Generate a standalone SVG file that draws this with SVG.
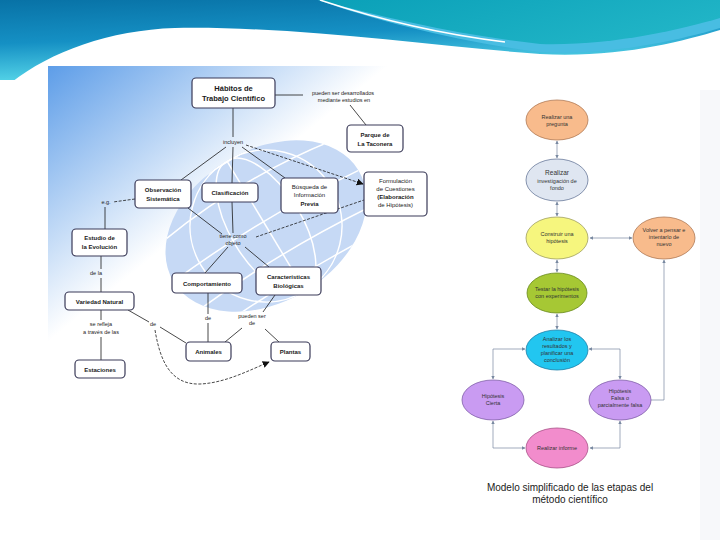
<svg xmlns="http://www.w3.org/2000/svg" width="720" height="540" viewBox="0 0 720 540">
<defs>
<linearGradient id="gBanner" x1="0" y1="0" x2="0.3" y2="1">
<stop offset="0" stop-color="#0872a6"/><stop offset="0.5" stop-color="#1590c4"/><stop offset="1" stop-color="#5cdcec"/>
</linearGradient>
<linearGradient id="gTeal" x1="0" y1="0" x2="1" y2="0.4">
<stop offset="0" stop-color="#0aa0b8"/><stop offset="1" stop-color="#20b4c6"/>
</linearGradient>
<linearGradient id="gMap" x1="0" y1="0" x2="0.75" y2="0.75">
<stop offset="0" stop-color="#5d9de8"/><stop offset="0.55" stop-color="#ffffff"/><stop offset="1" stop-color="#ffffff"/>
</linearGradient>
<clipPath id="globeClip"><ellipse cx="0" cy="0" rx="108" ry="76"/></clipPath>
<marker id="ah" viewBox="0 0 10 10" refX="9" refY="5" markerWidth="7" markerHeight="7" orient="auto-start-reverse" markerUnits="userSpaceOnUse">
<path d="M0,0 L10,5 L0,10 Z" fill="#111"/>
</marker>
<marker id="fa" viewBox="0 0 10 10" refX="9" refY="5" markerWidth="3.5" markerHeight="3.5" orient="auto-start-reverse" markerUnits="userSpaceOnUse">
<path d="M0,0 L10,5 L0,10 Z" fill="#7888a0"/>
</marker>
<style>
.box{fill:#fff;stroke:#3a3a58;stroke-width:1.2}
.bt{font-family:"Liberation Sans",Arial,sans-serif;font-weight:bold;font-size:6px;fill:#1a1a1a;text-anchor:middle}
.rt{font-family:"Liberation Sans",Arial,sans-serif;font-size:6px;fill:#1a1a1a;text-anchor:middle}
.lb{font-family:"Liberation Sans",Arial,sans-serif;font-size:5.5px;fill:#1a1a1a;text-anchor:middle}
.ln{stroke:#1a1a1a;stroke-width:0.8;fill:none}
.dl{stroke:#1a1a1a;stroke-width:0.8;fill:none;stroke-dasharray:3 1.5}
.fc{stroke:#7888a0;stroke-width:0.7;fill:none}
.el{stroke-width:0.8}
.ft{font-family:"Liberation Sans",Arial,sans-serif;font-size:5.5px;fill:#333;text-anchor:middle}
.cap{font-family:"Liberation Sans",Arial,sans-serif;font-size:10px;fill:#222;text-anchor:middle}
</style>
</defs>

<rect x="0" y="0" width="720" height="540" fill="#ffffff"/>

<g id="banner">
<rect x="0" y="0" width="720" height="80" fill="url(#gBanner)"/>
<path d="M318,0 C380,22 460,42 540,52 C610,56 680,40 720,28 L720,0 Z" fill="#48bde2"/>
<path d="M318,0 C385,18 465,36 540,44 C610,46 680,30 720,18 L720,0 Z" fill="url(#gTeal)"/>
<path d="M320,0 C380,20 440,34 505,42" stroke="#ffffff" stroke-width="1.5" fill="none"/>
<path d="M0,82 L12,82 C50,52 110,30 175,28 C300,26 430,46 540,54 C620,58 680,42 720,30 L720,82 Z" fill="#ffffff"/>
</g>

<rect x="700" y="90" width="20" height="450" fill="#f7f8fa"/>

<g id="concept-map-frame">
<rect x="48" y="66" width="412" height="334" fill="url(#gMap)"/>
<g transform="translate(266,226) rotate(-31)">
<ellipse cx="0" cy="0" rx="108" ry="76" fill="#c6d9f5"/>
<g clip-path="url(#globeClip)" stroke="#ffffff" stroke-width="1.5" fill="none">
<ellipse cx="0" cy="0" rx="36" ry="76"/>
<ellipse cx="0" cy="0" rx="76" ry="76"/>
<line x1="0" y1="-76" x2="0" y2="76"/>
<path d="M-108,-38 Q0,-56 108,-38"/>
<path d="M-108,0 Q0,-10 108,0"/>
<path d="M-108,38 Q0,28 108,38"/>
<path d="M-108,-66 Q0,-84 108,-66"/>
<path d="M-108,64 Q0,56 108,64"/>
</g>
</g>
</g>

<g id="connectors">
<line class="ln" x1="233" y1="108" x2="233" y2="137"/>
<line class="ln" x1="275" y1="95" x2="303" y2="95"/>
<line class="ln" x1="350" y1="105" x2="366" y2="125"/>
<line class="ln" x1="226" y1="147" x2="181" y2="180"/>
<line class="ln" x1="233" y1="147" x2="232" y2="183"/>
<line class="ln" x1="242" y1="147" x2="285" y2="178"/>
<line class="dl" x1="246" y1="145" x2="363" y2="184" marker-end="url(#ah)"/>
<line class="dl" x1="135" y1="199" x2="113" y2="202"/>
<line class="ln" x1="105" y1="207" x2="105" y2="229"/>
<line class="ln" x1="101" y1="256" x2="101" y2="269"/>
<line class="ln" x1="101" y1="278" x2="101" y2="292"/>
<line class="ln" x1="101" y1="310" x2="101" y2="320"/>
<line class="ln" x1="101" y1="337" x2="101" y2="360"/>
<line class="ln" x1="128" y1="310" x2="149" y2="322"/>
<line class="ln" x1="160" y1="327" x2="186" y2="343"/>
<path class="dl" d="M155,330 C160,360 170,385 200,384 C225,383 250,370 269,362" marker-end="url(#ah)"/>
<line class="ln" x1="188" y1="208" x2="222" y2="234"/>
<line class="ln" x1="232" y1="202" x2="233" y2="233"/>
<line class="dl" x1="256" y1="237" x2="364" y2="200"/>
<line class="ln" x1="228" y1="247" x2="205" y2="273"/>
<line class="ln" x1="245" y1="247" x2="269" y2="267"/>
<line class="ln" x1="208" y1="293" x2="208" y2="314"/>
<line class="ln" x1="208" y1="323" x2="208" y2="342"/>
<line class="ln" x1="275" y1="295" x2="263" y2="312"/>
<line class="ln" x1="242" y1="328" x2="225" y2="342"/>
<line class="ln" x1="265" y1="329" x2="279" y2="342"/>

<line class="fc" x1="557" y1="141" x2="557" y2="158" marker-start="url(#fa)" marker-end="url(#fa)"/>
<line class="fc" x1="557" y1="202" x2="557" y2="216" marker-start="url(#fa)" marker-end="url(#fa)"/>
<line class="fc" x1="590" y1="238" x2="632" y2="238" marker-start="url(#fa)" marker-end="url(#fa)"/>
<line class="fc" x1="557" y1="260" x2="557" y2="272" marker-start="url(#fa)" marker-end="url(#fa)"/>
<line class="fc" x1="557" y1="314" x2="557" y2="329" marker-start="url(#fa)" marker-end="url(#fa)"/>
<polyline class="fc" points="525,349 493,349 493,379" marker-start="url(#fa)" marker-end="url(#fa)"/>
<polyline class="fc" points="589,349 620,349 620,379" marker-start="url(#fa)" marker-end="url(#fa)"/>
<polyline class="fc" points="651,400 664,400 664,260" marker-end="url(#fa)"/>
<polyline class="fc" points="493,421 493,448 525,448" marker-start="url(#fa)" marker-end="url(#fa)"/>
<polyline class="fc" points="620,421 620,448 590,448" marker-start="url(#fa)" marker-end="url(#fa)"/>
</g>

<g id="map-labels">
<text class="lb" x="233" y="144">incluyen</text>
<text class="lb" x="343" y="95">pueden ser desarrollados</text>
<text class="lb" x="344" y="102">mediante estudios en</text>
<text class="lb" x="106" y="204">e.g.</text>
<text class="lb" x="96" y="275">de la</text>
<text class="lb" x="101" y="326">se refleja</text>
<text class="lb" x="101" y="334">a través de las</text>
<text class="lb" x="153" y="326">de</text>
<text class="lb" x="233" y="238">tiene como</text>
<text class="lb" x="233" y="245">objeto</text>
<text class="lb" x="208" y="320">de</text>
<text class="lb" x="252" y="318">pueden ser</text>
<text class="lb" x="252" y="325">de</text>
</g>

<g id="node-habitos"><rect class="box" x="192" y="78" width="83" height="30" rx="4"/>
<text class="bt" x="233.5" y="91" style="font-size:7.5px">Hábitos de</text>
<text class="bt" x="233.5" y="101" style="font-size:7.5px">Trabajo Científico</text></g>
<g id="node-parque"><rect class="box" x="347" y="125" width="56" height="27" rx="4"/>
<text class="bt" x="375" y="137">Parque de</text><text class="bt" x="375" y="146">La Taconera</text></g>
<g id="node-observacion"><rect class="box" x="135" y="180" width="56" height="28" rx="4"/>
<text class="bt" x="163" y="192">Observación</text><text class="bt" x="163" y="201">Sistemática</text></g>
<g id="node-clasificacion"><rect class="box" x="202" y="183" width="56" height="19" rx="4"/>
<text class="bt" x="230" y="195">Clasificación</text></g>
<g id="node-busqueda"><rect class="box" x="281" y="178" width="57" height="35" rx="4"/>
<text class="rt" x="309.5" y="189">Búsqueda de</text><text class="rt" x="309.5" y="197">Información</text><text class="bt" x="309.5" y="206">Previa</text></g>
<g id="node-formulacion"><rect class="box" x="364" y="172" width="63" height="44" rx="4"/>
<text class="rt" x="395.5" y="183">Formulación</text><text class="rt" x="395.5" y="191">de Cuestiones</text><text class="bt" x="395.5" y="199">(Elaboración</text><text class="rt" x="395.5" y="207">de Hipótesis)</text></g>
<g id="node-estudio"><rect class="box" x="72" y="229" width="55" height="27" rx="4"/>
<text class="bt" x="99.5" y="240">Estudio de</text><text class="bt" x="99.5" y="249">la Evolución</text></g>
<g id="node-variedad"><rect class="box" x="65" y="292" width="69" height="18" rx="4"/>
<text class="bt" x="99.5" y="303.5">Variedad Natural</text></g>
<g id="node-estaciones"><rect class="box" x="75" y="360" width="50" height="18" rx="4"/>
<text class="bt" x="100" y="371.5">Estaciones</text></g>
<g id="node-comportamiento"><rect class="box" x="172" y="273" width="70" height="20" rx="4"/>
<text class="bt" x="207" y="285.5">Comportamiento</text></g>
<g id="node-caracteristicas"><rect class="box" x="256" y="267" width="65" height="28" rx="4"/>
<text class="bt" x="288.5" y="279">Características</text><text class="bt" x="288.5" y="288">Biológicas</text></g>
<g id="node-animales"><rect class="box" x="186" y="342" width="45" height="19" rx="4"/>
<text class="bt" x="208.5" y="354">Animales</text></g>
<g id="node-plantas"><rect class="box" x="271" y="342" width="39" height="19" rx="4"/>
<text class="bt" x="290.5" y="354">Plantas</text></g>

<g id="flow-pregunta"><ellipse class="el" cx="557" cy="120" rx="31" ry="20" fill="#f8bb8c" stroke="#b07a55"/>
<text class="ft" x="557" y="119">Realizar una</text><text class="ft" x="557" y="126">pregunta</text></g>
<g id="flow-investigacion"><ellipse class="el" cx="557" cy="180" rx="31" ry="21" fill="#dfe6f1" stroke="#6a7a9a"/>
<text class="ft" x="557" y="175" style="font-size:6.5px">Realizar</text><text class="ft" x="557" y="182.5">investigación de</text><text class="ft" x="557" y="189.5">fondo</text></g>
<g id="flow-hipotesis"><ellipse class="el" cx="557" cy="238" rx="31" ry="21" fill="#f6f67e" stroke="#a0a060"/>
<text class="ft" x="557" y="236">Construir una</text><text class="ft" x="557" y="243">hipótesis</text></g>
<g id="flow-volver"><ellipse class="el" cx="664" cy="238" rx="31" ry="21" fill="#f8bb8c" stroke="#b07a55"/>
<text class="ft" x="664" y="232">Volver a pensar e</text><text class="ft" x="664" y="239">intentarlo de</text><text class="ft" x="664" y="246">nuevo</text></g>
<g id="flow-testar"><ellipse class="el" cx="557" cy="293" rx="30" ry="20" fill="#a6c834" stroke="#6a8a20"/>
<text class="ft" x="557" y="291">Testar la hipótesis</text><text class="ft" x="557" y="298">con experimentos</text></g>
<g id="flow-analizar"><ellipse class="el" cx="557" cy="350" rx="31" ry="20" fill="#22c6f0" stroke="#2080a8"/>
<text class="ft" x="557" y="341">Analizar los</text><text class="ft" x="557" y="348">resultados y</text><text class="ft" x="557" y="355">planificar una</text><text class="ft" x="557" y="362">conclusión</text></g>
<g id="flow-cierta"><ellipse class="el" cx="493" cy="400" rx="31" ry="20" fill="#c99bf2" stroke="#8060a8"/>
<text class="ft" x="493" y="398">Hipótesis</text><text class="ft" x="493" y="405">Cierta</text></g>
<g id="flow-falsa"><ellipse class="el" cx="620" cy="400" rx="31" ry="20" fill="#c99bf2" stroke="#8060a8"/>
<text class="ft" x="620" y="393">Hipótesis</text><text class="ft" x="620" y="400">Falsa o</text><text class="ft" x="620" y="407">parcialmente falsa</text></g>
<g id="flow-informe"><ellipse class="el" cx="557" cy="448" rx="31" ry="20" fill="#f28ccc" stroke="#a85088"/>
<text class="ft" x="557" y="450">Realizar informe</text></g>

<g id="caption">
<text class="cap" x="570" y="491">Modelo simplificado de las etapas del</text>
<text class="cap" x="570" y="503">método científico</text>
</g>
</svg>
